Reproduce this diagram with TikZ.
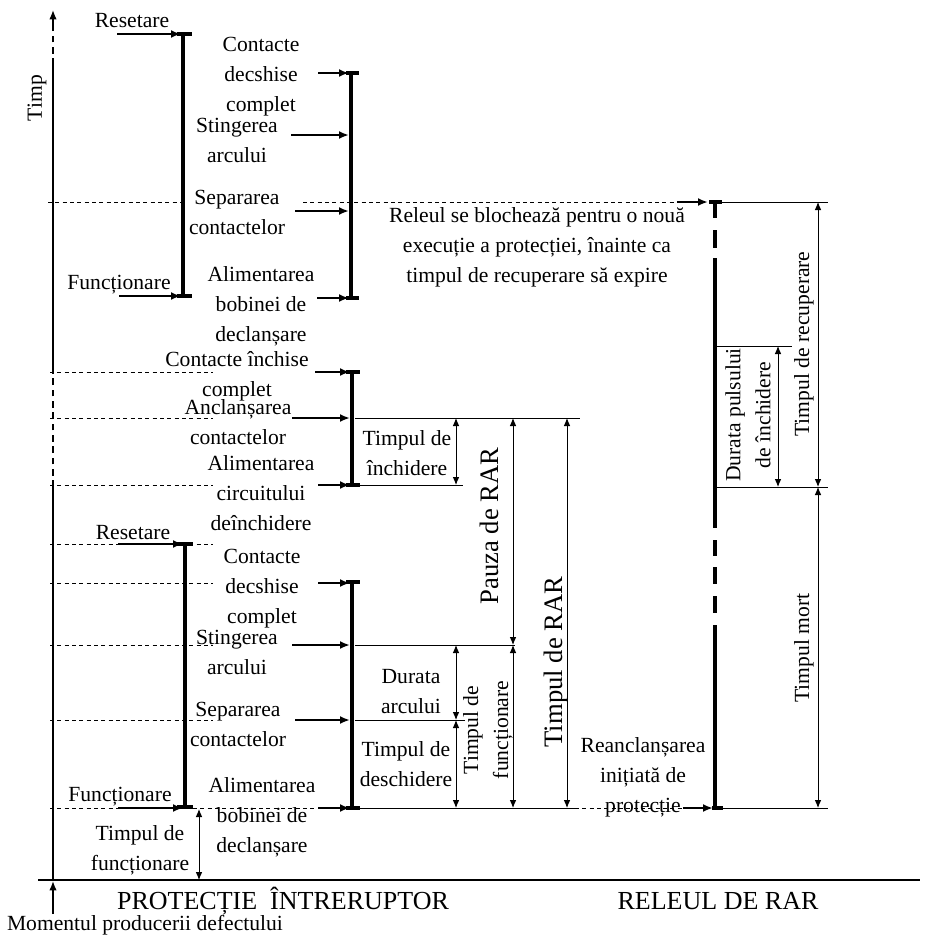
\documentclass[tikz,border=0pt]{standalone}
\usepackage{fontspec}
\setmainfont{Liberation Serif}
\usetikzlibrary{arrows.meta}

\tikzset{
  bar/.style={line width=3pt},
  feed/.style={line width=1.9pt,-{Latex[length=7.5pt,width=6pt]}},
  guide/.style={line width=0.7pt,dash pattern=on 3pt off 2.5pt},
  ref/.style={line width=0.7pt},
  dimarr/.style={line width=0.7pt,{Latex[length=6pt,width=5pt]}-{Latex[length=6pt,width=5pt]}},
  lbl/.style={font=\fontsize{16.2}{22.5}\selectfont,align=center,inner sep=0pt},
  biglbl/.style={font=\fontsize{20}{24}\selectfont,align=center,inner sep=0pt},
  title/.style={font=\fontsize{19.5}{24}\selectfont,inner sep=0pt,anchor=base},
}

\begin{document}
\begin{tikzpicture}[x=0.75pt,y=-0.75pt]
\useasboundingbox (0,0) rectangle (935,936);

% ---------------- time axis ----------------
\draw[line width=1pt] (53,880) -- (53,487);
\draw[line width=1pt,dash pattern=on 5pt off 3.5pt] (53,487) -- (53,370);
\draw[line width=1pt] (53,370) -- (53,65);
\draw[line width=1pt,dash pattern=on 5pt off 3.5pt] (53,65) -- (53,27);
\draw[line width=1pt,-{Latex[length=7pt,width=5.5pt]}] (53,28) -- (53,10);
\node[lbl,rotate=90] (timp) at (37,98) {Timp};

% baseline and fault instant
\draw[line width=1.5pt] (38,880) -- (920,880);
\draw[line width=1pt,-{Latex[length=7pt,width=5.5pt]}] (53,914) -- (53,881);

% ---------------- breaker protection, first trip ----------------
\draw[bar] (183,34) -- (183,296);
\draw[bar] (177,34) -- (192,34);
\draw[bar] (177,296) -- (192,296);
\draw[feed] (117,34) -- (181,34);
\draw[feed] (119,296) -- (181,296);
\node[lbl] (reset1) at (132,21) {Resetare};
\node[lbl] (func1) at (119,285) {Funcționare};

\draw[bar] (351,73) -- (351,298);
\draw[bar] (346,73) -- (359,73);
\draw[bar] (346,298) -- (359,298);
\draw[feed] (318,73) -- (349,73);
\draw[feed] (291,135) -- (349,135);
\draw[feed] (295,211) -- (349,211);
\draw[feed] (317,298) -- (349,298);
\node[lbl] (cdc1) at (261,77) {Contacte\\decshise\\complet};
\node[lbl] (sta1) at (237,140) {Stingerea\\arcului};
\node[lbl] (sep1) at (237,212) {Separarea\\contactelor};
\node[lbl] (ali1) at (261,306) {Alimentarea\\bobinei de\\declanșare};

% blocking of the relay
\draw[guide] (48,202) -- (187,202);
\draw[guide] (303,202) -- (680,202);
\draw[feed] (677,202) -- (708,202);
\node[lbl] (block) at (537,247) {Releul se blochează pentru o nouă\\execuție a protecției, înainte ca\\timpul de recuperare să expire};

% ---------------- reclosing ----------------
\draw[bar] (352,372) -- (352,485);
\draw[bar] (346,372) -- (360,372);
\draw[bar] (346,485) -- (360,485);
\draw[feed] (315,372) -- (350,372);
\draw[feed] (292,418) -- (350,418);
\draw[feed] (318,485) -- (350,485);
\node[lbl] (cic) at (237,376) {Contacte închise\\complet};
\node[lbl] (anc) at (238,422) {Anclanșarea\\contactelor};
\node[lbl] (alc) at (261,493) {Alimentarea\\circuitului\\deînchidere};
\foreach \yy in {372,418,485} \draw[guide] (50,\yy) -- (213,\yy);

\draw[ref] (355,418) -- (580,418);
\draw[ref] (355,485) -- (463,485);
\draw[dimarr] (456,418) -- (456,485);
\node[lbl] (tinc) at (407,453) {Timpul de\\închidere};

% ---------------- breaker protection, second trip ----------------
\draw[bar] (185,544) -- (185,807);
\draw[bar] (177,544) -- (193,544);
\draw[bar] (177,807) -- (193,807);
\draw[feed] (118,544) -- (183,544);
\draw[feed] (118,808) -- (183,808);
\node[lbl] (reset2) at (133,533) {Resetare};
\node[lbl] (func2) at (120,797) {Funcționare};

\draw[bar] (352,582) -- (352,808);
\draw[bar] (346,582) -- (360,582);
\draw[bar] (346,808) -- (360,808);
\draw[feed] (318,583) -- (350,583);
\draw[feed] (292,645) -- (350,645);
\draw[feed] (295,720) -- (350,720);
\draw[feed] (318,808) -- (350,808);
\node[lbl] (cdc2) at (262,589) {Contacte\\decshise\\complet};
\node[lbl] (sta2) at (237,652) {Stingerea\\arcului};
\node[lbl] (sep2) at (238,724) {Separarea\\contactelor};
\node[lbl] (ali2) at (262,817) {Alimentarea\\bobinei de\\declanșare};

\foreach \yy in {544,583,645,720} \draw[guide] (50,\yy) -- (213,\yy);
\draw[guide] (50,808) -- (118,808);
\draw[guide] (193,808) -- (314,808);

\draw[ref] (355,645) -- (515,645);
\draw[ref] (355,720) -- (465,720);
\draw[ref] (355,808) -- (575,808);
\draw[guide] (575,808) -- (686,808);

\draw[dimarr] (456,645) -- (456,720);
\draw[dimarr] (456,720) -- (456,808);
\draw[dimarr] (513,645) -- (513,808);
\draw[dimarr] (513,418) -- (513,645);
\draw[dimarr] (567,418) -- (567,808);
\node[lbl] (darc) at (411,692) {Durata\\arcului};
\node[lbl] (tdes) at (406,764) {Timpul de\\deschidere};
\node[lbl,rotate=90] (tfun) at (488,730) {Timpul de\\funcționare};
\node[biglbl,rotate=90] (pauza) at (489,526) {Pauza de RAR};
\node[biglbl,rotate=90] (trar) at (556,662) {Timpul de RAR};

% operating time of the protection
\draw[dimarr] (199,809) -- (199,880);
\node[lbl] (tfb) at (140,850) {Timpul de\\funcționare};

% ---------------- reclosing relay ----------------
\foreach \ya/\yb in {202/218,230/248,258/528,540/556,567/584,596/613,625/808}
  \draw[bar] (715,\ya) -- (715,\yb);
\draw[bar] (709,202) -- (722,202);
\draw[bar] (712,808) -- (723,808);
\draw[feed] (683,808) -- (713,808);
\node[lbl] (rein) at (643,777) {Reanclanșarea\\inițiată de\\protecție};

\draw[ref] (722,202) -- (828,202);
\draw[ref] (715,346) -- (792,346);
\draw[ref] (715,487) -- (828,487);
\draw[ref] (723,808) -- (828,808);
\draw[dimarr] (818,202) -- (818,487);
\draw[dimarr] (818,487) -- (818,808);
\draw[dimarr] (778,346) -- (778,487);
\node[lbl,rotate=90] (trec) at (804,344) {Timpul de recuperare};
\node[lbl,rotate=90] (tmort) at (804,648) {Timpul mort};
\node[lbl,rotate=90] (dpuls) at (748,415) {Durata pulsului\\de închidere};

% ---------------- column titles ----------------
\node[title] (hprot) at (283,909) {PROTECȚIE\ \ ÎNTRERUPTOR};
\node[title] (hrel) at (718,909) {RELEUL DE RAR};
\node[lbl,anchor=base] (mom) at (145,930) {Momentul producerii defectului};
\end{tikzpicture}
\end{document}
